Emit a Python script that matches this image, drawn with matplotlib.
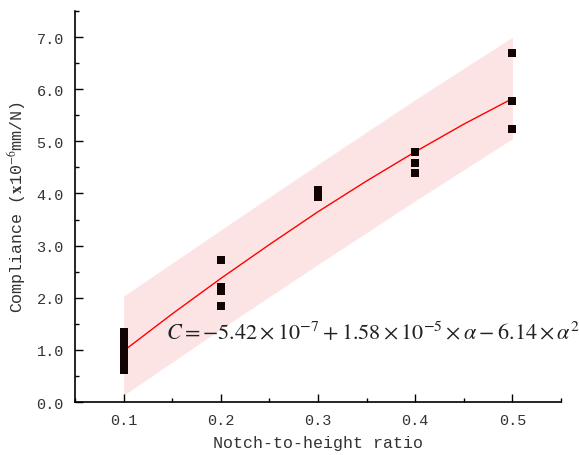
import numpy as np
import matplotlib
matplotlib.use("Agg")
import matplotlib.pyplot as plt
from matplotlib.ticker import MultipleLocator, FormatStrFormatter

plt.rcParams["mathtext.fontset"] = "stix"

# measured compliance points (x1e-6 mm/N)
ratio_pts = [0.1, 0.1, 0.1, 0.1, 0.1, 0.1, 0.1, 0.1,
             0.2, 0.2, 0.2, 0.2,
             0.3, 0.3, 0.3,
             0.4, 0.4, 0.4,
             0.5, 0.5, 0.5]
compliance_pts = [0.62, 0.72, 0.82, 0.92, 1.02, 1.12, 1.22, 1.34,
                  2.73, 2.21, 2.12, 1.85,
                  4.07, 4.00, 3.93,
                  4.79, 4.58, 4.40,
                  6.70, 5.78, 5.23]

# fitted curve
fit_x = [0.10, 0.15, 0.20, 0.25, 0.30, 0.35, 0.40, 0.45, 0.50]
fit_y = [0.98, 1.69, 2.37, 3.02, 3.65, 4.24, 4.80, 5.33, 5.82]

# shaded band edges
band_x = [0.1, 0.2, 0.3, 0.4, 0.5]
band_upper = [2.03, 3.30, 4.56, 5.80, 7.00]
band_lower = [0.13, 1.40, 2.64, 3.86, 5.05]

fig = plt.figure(figsize=(5.79, 4.56), dpi=100)
ax = fig.add_axes([0.1295, 0.1162, 0.8395, 0.8575])

ax.fill_between(band_x, band_lower, band_upper, color="#fde4e4", lw=0, zorder=1)
ax.plot(fit_x, fit_y, color="red", lw=1.0, zorder=2)
ax.scatter(ratio_pts, compliance_pts, marker="s", s=34, color="#140303", zorder=3, linewidths=0)

ax.set_xlim(0.05, 0.55)
ax.set_ylim(0, 7.5)
ax.xaxis.set_major_locator(MultipleLocator(0.1))
ax.xaxis.set_minor_locator(MultipleLocator(0.05))
ax.yaxis.set_major_locator(MultipleLocator(1.0))
ax.yaxis.set_minor_locator(MultipleLocator(0.5))
ax.xaxis.set_major_formatter(FormatStrFormatter("%.1f"))
ax.yaxis.set_major_formatter(FormatStrFormatter("%.1f"))

for side in ["top", "right"]:
    ax.spines[side].set_visible(False)
for side in ["left", "bottom"]:
    ax.spines[side].set_linewidth(1.2)

ax.tick_params(which="major", direction="in", length=6, width=1.0)
ax.tick_params(which="minor", direction="in", length=3, width=1.0)
ax.tick_params(labelsize=11, pad=8)
for lbl in ax.get_xticklabels() + ax.get_yticklabels():
    lbl.set_family("Liberation Mono")
    lbl.set_color("#333333")

ax.set_xlabel("Notch-to-height ratio", family="Liberation Mono", fontsize=12, color="#333333", labelpad=6)
ax.set_ylabel(r"Compliance ($\mathbf{x}$10$^{-6}$mm/N)", family="Liberation Mono", fontsize=12,
              color="#333333", labelpad=6)

ax.text(0.1435, 1.2, r"$C=-5.42\times10^{-7}+1.58\times10^{-5}\times\alpha-6.14\times\alpha^{2}$",
        fontsize=16, color="#222222", clip_on=False, zorder=4)

fig.savefig("out.png", dpi=100)
